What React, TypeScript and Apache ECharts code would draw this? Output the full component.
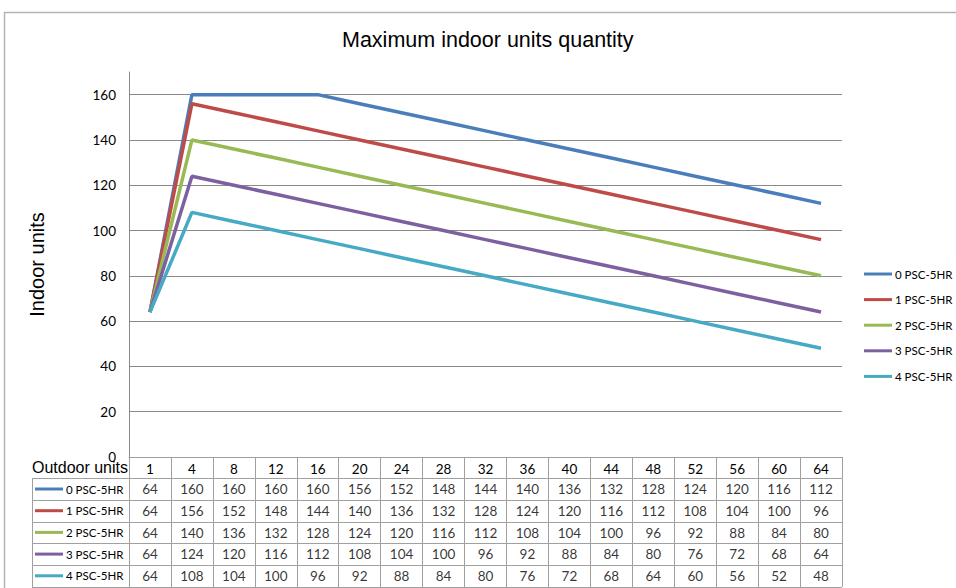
import React, { useEffect, useRef } from "react";
import * as echarts from "echarts";

const categories = ["1", "4", "8", "12", "16", "20", "24", "28", "32", "36", "40", "44", "48", "52", "56", "60", "64"];
const seriesNames = ["0 PSC-5HR", "1 PSC-5HR", "2 PSC-5HR", "3 PSC-5HR", "4 PSC-5HR"];
const psc0 = [64, 160, 160, 160, 160, 156, 152, 148, 144, 140, 136, 132, 128, 124, 120, 116, 112];
const psc1 = [64, 156, 152, 148, 144, 140, 136, 132, 128, 124, 120, 116, 112, 108, 104, 100, 96];
const psc2 = [64, 140, 136, 132, 128, 124, 120, 116, 112, 108, 104, 100, 96, 92, 88, 84, 80];
const psc3 = [64, 124, 120, 116, 112, 108, 104, 100, 96, 92, 88, 84, 80, 76, 72, 68, 64];
const psc4 = [64, 108, 104, 100, 96, 92, 88, 84, 80, 76, 72, 68, 64, 60, 56, 52, 48];
const seriesValues = [psc0, psc1, psc2, psc3, psc4];
const colors = ["#4A7EBB", "#BE4B48", "#98B954", "#7D60A0", "#46AAC5"];

const GRID_COLOR = "#8a8a8a";
const TABLE_COLOR = "#a0a0a0";
const NUM_FONT = "Lato";
const ARIAL = "Liberation Sans";

export default function App() {
  const ref = useRef<HTMLDivElement>(null);
  useEffect(() => {
    if (!ref.current) return;
    const chart = echarts.init(ref.current, undefined, { renderer: "svg" });
    const lineSeries = seriesNames.map((name, i) => ({
      type: "line",
      name,
      xAxisIndex: 0,
      yAxisIndex: 0,
      data: seriesValues[i],
      symbol: "none",
      showSymbol: false,
      color: colors[i],
      lineStyle: { width: 3.5, color: colors[i] },
      itemStyle: { color: colors[i] },
      silent: true,
    }));
    const tableSeries = seriesNames.map((name, i) => ({
      type: "scatter",
      name: "table-" + i,
      xAxisIndex: 1,
      yAxisIndex: 1,
      symbolSize: 0,
      itemStyle: { color: "rgba(0,0,0,0)" },
      silent: true,
      data: seriesValues[i].map((v, j) => [j, i, v]),
      encode: { x: 0, y: 1 },
      label: {
        show: true,
        position: "inside",
        formatter: (p: any) => String(p.value[2]),
        color: "#000",
        fontSize: 13.5,
        fontFamily: NUM_FONT,
      },
    }));
    const legendCommon = {
      orient: "vertical",
      data: seriesNames,
      icon: "rect",
      itemWidth: 28,
      itemHeight: 3,
      padding: 0,
      height: 160,
      textStyle: { color: "#000", fontSize: 11.5, fontFamily: NUM_FONT, lineHeight: 14, padding: [0, 0, 0, -2] },
      selectedMode: false,
    };
    chart.setOption({
      animation: false,
      backgroundColor: "#fff",
      title: {
        text: "Maximum indoor units quantity",
        left: 337,
        top: 24,
        textStyle: { color: "#000", fontSize: 21.5, fontWeight: "normal", fontFamily: ARIAL },
      },
      legend: [
        { ...legendCommon, left: 864, top: 267, itemGap: 11.6 },
        { ...legendCommon, left: 35, top: 482, itemGap: 7.7 },
      ],
      grid: [
        { left: 129, right: 114, top: 72, height: 385 },
        { left: 129, right: 114, top: 478.5, height: 108.5 },
      ],
      xAxis: [
        {
          type: "category",
          gridIndex: 0,
          data: categories,
          boundaryGap: true,
          name: "Outdoor units",
          nameLocation: "start",
          nameGap: 1,
          nameMoveOverlap: false,
          nameTextStyle: { color: "#000", fontSize: 16, fontFamily: ARIAL, align: "right", verticalAlign: "top", padding: [2, 0, 0, 0] },
          axisLine: { show: true, lineStyle: { color: TABLE_COLOR, width: 1 } },
          axisTick: { show: true, interval: 0, length: 21.5, lineStyle: { color: TABLE_COLOR } },
          axisLabel: { color: "#000", fontSize: 13.5, fontFamily: NUM_FONT, margin: 5, interval: 0 },
          splitLine: { show: false },
        },
        {
          type: "category",
          gridIndex: 1,
          data: categories,
          boundaryGap: true,
          axisLine: { show: false },
          axisTick: { show: false },
          axisLabel: { show: false },
          splitLine: { show: true, interval: 0, lineStyle: { color: TABLE_COLOR, width: 1 } },
        },
      ],
      yAxis: [
        {
          type: "value",
          gridIndex: 0,
          min: 0,
          max: 170,
          interval: 20,
          name: "Indoor units",
          nameLocation: "middle",
          nameGap: 82,
          nameTextStyle: { color: "#000", fontSize: 20, fontFamily: ARIAL },
          axisLine: { show: true, lineStyle: { color: GRID_COLOR } },
          axisTick: { show: false },
          axisLabel: { color: "#000", fontSize: 13.5, fontFamily: NUM_FONT, margin: 13, showMaxLabel: false },
          splitLine: { show: true, showMaxLine: false, lineStyle: { color: GRID_COLOR, width: 1 } },
        },
        {
          type: "category",
          gridIndex: 1,
          inverse: true,
          data: seriesNames,
          boundaryGap: true,
          axisLine: { show: true, lineStyle: { color: TABLE_COLOR } },
          axisTick: { show: true, interval: 0, length: 97, lineStyle: { color: TABLE_COLOR } },
          axisLabel: { show: false },
          splitLine: { show: true, interval: 0, lineStyle: { color: TABLE_COLOR, width: 1 } },
        },
        {
          type: "category",
          gridIndex: 1,
          inverse: true,
          data: seriesNames,
          position: "left",
          offset: 97,
          axisLine: { show: true, lineStyle: { color: TABLE_COLOR } },
          axisTick: { show: false },
          axisLabel: { show: false },
          splitLine: { show: false },
        },
      ],
      graphic: [
        {
          type: "rect",
          shape: { x: 4.5, y: 12.5, width: 1000, height: 700 },
          style: { fill: "none", stroke: "#b4b4b4", lineWidth: 1.5 },
          silent: true,
          z: -1,
        },
      ],
      series: [...lineSeries, ...tableSeries],
    });
    return () => chart.dispose();
  }, []);
  return <div ref={ref} style={{ position: "fixed", left: 0, top: 0, width: 956, height: 588 }} />;
}
